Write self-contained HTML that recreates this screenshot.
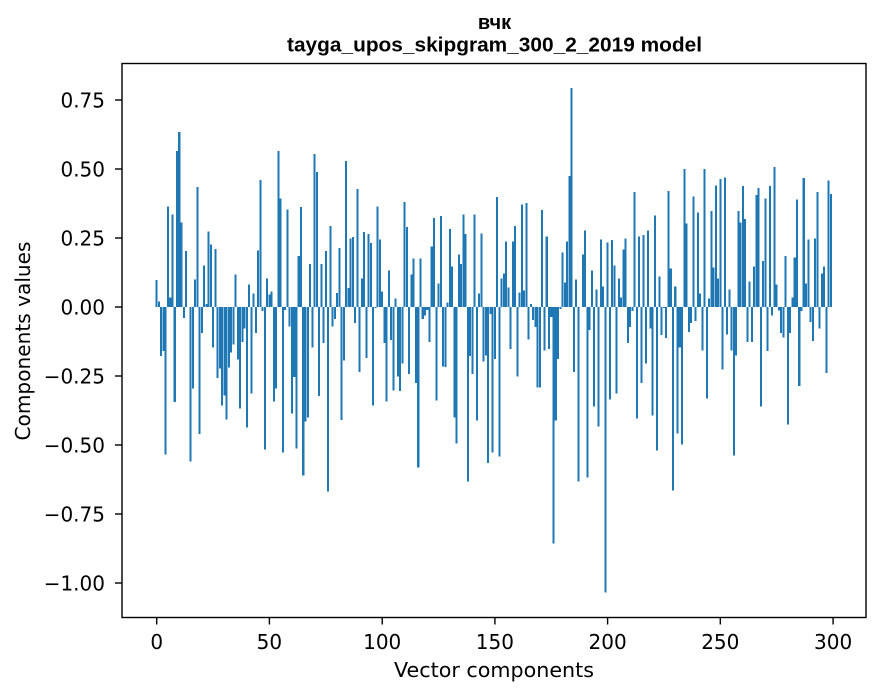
<!DOCTYPE html>
<html>
<head>
<meta charset="utf-8">
<style>
  html, body { margin: 0; padding: 0; background: #ffffff; }
  svg { display: block; }
  .tick { font-family: "DejaVu Sans", "Liberation Sans", sans-serif; font-size: 20px; fill: #000; }
  .lab { font-family: "DejaVu Sans", "Liberation Sans", sans-serif; font-size: 20px; fill: #000; }
  .ttl { font-family: "Liberation Sans", "DejaVu Sans", sans-serif; font-size: 20px; font-weight: bold; fill: #000; }
</style>
</head>
<body>
<svg width="880" height="696" viewBox="0 0 880 696" xmlns="http://www.w3.org/2000/svg">
  <rect x="0" y="0" width="880" height="696" fill="#ffffff"/>

  <!-- bars -->
  <g transform="translate(155.7,307) scale(2.2545,-276)">
    <path fill="#1f77b4" shape-rendering="crispEdges" d="M0 0
v.097h.9V0zm1 0 v.02h.9V0zm1 0 v-.178h.9V0zm1 0 v-.16h.9V0zm1 0 v-.535h.9V0zm1 0
v.365h.9V0zm1 0 v.035h.9V0zm1 0 v.336h.9V0zm1 0 v-.345h.9V0zm1 0 v.565h.9V0zm1 0
v.634h.9V0zm1 0 v.307h.9V0zm1 0 v-.04h.9V0zm1 0 v.202h.9V0zm1 0 m1 0
v-.56h.9V0zm1 0 v-.295h.9V0zm1 0 v.1h.9V0zm1 0 v.434h.9V0zm1 0 v-.46h.9V0zm1 0
v-.095h.9V0zm1 0 v.151h.9V0zm1 0 v.01h.9V0zm1 0 v.274h.9V0zm1 0 v.227h.9V0zm1 0
v-.146h.9V0zm1 0 v.21h.9V0zm1 0 v-.258h.9V0zm1 0 v-.222h.9V0zm1 0 v-.356h.9V0zm1 0
v-.32h.9V0zm1 0 v-.407h.9V0zm1 0 v-.22h.9V0zm1 0 v-.164h.9V0zm1 0 v-.135h.9V0zm1 0
v.118h.9V0zm1 0 v-.19h.9V0zm1 0 v-.368h.9V0zm1 0 v-.127h.9V0zm1 0 v-.077h.9V0zm1 0
v-.436h.9V0zm1 0 v.082h.9V0zm1 0 v-.313h.9V0zm1 0 v.049h.9V0zm1 0 v-.095h.9V0zm1 0
v.205h.9V0zm1 0 v.46h.9V0zm1 0 v-.015h.9V0zm1 0 v-.516h.9V0zm1 0 v.104h.9V0zm1 0
v.046h.9V0zm1 0 v.056h.9V0zm1 0 v-.342h.9V0zm1 0 v-.295h.9V0zm1 0 v.565h.9V0zm1 0
v.394h.9V0zm1 0 v-.527h.9V0zm1 0 v-.01h.9V0zm1 0 v.354h.9V0zm1 0 v-.071h.9V0zm1 0
v-.385h.9V0zm1 0 v-.254h.9V0zm1 0 v-.513h.9V0zm1 0 v.184h.9V0zm1 0 v.362h.9V0zm1 0
v-.61h.9V0zm1 0 v-.414h.9V0zm1 0 v-.4h.9V0zm1 0 v.155h.9V0zm1 0 v-.146h.9V0zm1 0
v.554h.9V0zm1 0 v.489h.9V0zm1 0 v-.323h.9V0zm1 0 v.155h.9V0zm1 0 v-.13h.9V0zm1 0
v.202h.9V0zm1 0 v-.668h.9V0zm1 0 v.293h.9V0zm1 0 v-.07h.9V0zm1 0 v-.044h.9V0zm1 0
v.05h.9V0zm1 0 v.213h.9V0zm1 0 v-.41h.9V0zm1 0 v-.193h.9V0zm1 0 v.529h.9V0zm1 0
v.068h.9V0zm1 0 v.249h.9V0zm1 0 v.253h.9V0zm1 0 v-.058h.9V0zm1 0 v.427h.9V0zm1 0
v-.236h.9V0zm1 0 v.104h.9V0zm1 0 v.271h.9V0zm1 0 v-.185h.9V0zm1 0 v.264h.9V0zm1 0
v.231h.9V0zm1 0 v-.356h.9V0zm1 0 v-.004h.9V0zm1 0 v.365h.9V0zm1 0 v.245h.9V0zm1 0
v.057h.9V0zm1 0 v-.131h.9V0zm1 0 v-.342h.9V0zm1 0 v.133h.9V0zm1 0 v-.12h.9V0zm1 0
v-.302h.9V0zm1 0 v.031h.9V0zm1 0 v-.251h.9V0zm1 0 v-.305h.9V0zm1 0 v-.204h.9V0zm1 0
v.38h.9V0zm1 0 v.289h.9V0zm1 0 v-.243h.9V0zm1 0 v.118h.9V0zm1 0 v.176h.9V0zm1 0
v-.276h.9V0zm1 0 v-.581h.9V0zm1 0 v.176h.9V0zm1 0 v-.044h.9V0zm1 0 v-.03h.9V0zm1 0
v-.01h.9V0zm1 0 v-.127h.9V0zm1 0 v.22h.9V0zm1 0 v.322h.9V0zm1 0 v-.338h.9V0zm1 0
v.085h.9V0zm1 0 v.329h.9V0zm1 0 v-.215h.9V0zm1 0 v-.218h.9V0zm1 0 v.017h.9V0zm1 0
v.282h.9V0zm1 0 v.147h.9V0zm1 0 v-.4h.9V0zm1 0 v-.494h.9V0zm1 0 v.191h.9V0zm1 0
v.155h.9V0zm1 0 v.336h.9V0zm1 0 v.264h.9V0zm1 0 v-.632h.9V0zm1 0 v-.178h.9V0zm1 0
v-.243h.9V0zm1 0 v.336h.9V0zm1 0 v-.411h.9V0zm1 0 v.049h.9V0zm1 0 v.267h.9V0zm1 0
v-.197h.9V0zm1 0 v-.175h.9V0zm1 0 v-.566h.9V0zm1 0 v-.026h.9V0zm1 0 v-.527h.9V0zm1 0
v-.189h.9V0zm1 0 v.398h.9V0zm1 0 v-.541h.9V0zm1 0 v.104h.9V0zm1 0 v.122h.9V0zm1 0
v.238h.9V0zm1 0 v.071h.9V0zm1 0 v-.153h.9V0zm1 0 v.238h.9V0zm1 0 v.293h.9V0zm1 0
v-.251h.9V0zm1 0 v.053h.9V0zm1 0 v.372h.9V0zm1 0 v.06h.9V0zm1 0 v.376h.9V0zm1 0
v-.117h.9V0zm1 0 v.01h.9V0zm1 0 v-.048h.9V0zm1 0 v-.073h.9V0zm1 0 v-.291h.9V0zm1 0
v-.291h.9V0zm1 0 v.351h.9V0zm1 0 v-.157h.9V0zm1 0 v.256h.9V0zm1 0 v-.153h.9V0zm1 0
v-.037h.9V0zm1 0 v-.857h.9V0zm1 0 v-.411h.9V0zm1 0 v-.189h.9V0zm1 0 v-.008h.9V0zm1 0
v.198h.9V0zm1 0 v.089h.9V0zm1 0 v.238h.9V0zm1 0 v.474h.9V0zm1 0 v.794h.9V0zm1 0
v-.236h.9V0zm1 0 v.1h.9V0zm1 0 v-.632h.9V0zm1 0 m1 0 v.191h.9V0zm1 0
v.278h.9V0zm1 0 v-.618h.9V0zm1 0 v-.084h.9V0zm1 0 v.133h.9V0zm1 0 v-.36h.9V0zm1 0
v.064h.9V0zm1 0 v-.433h.9V0zm1 0 v.245h.9V0zm1 0 v.075h.9V0zm1 0 v-1.035h.9V0zm1 0
v.234h.9V0zm1 0 v-.335h.9V0zm1 0 v.242h.9V0zm1 0 v.151h.9V0zm1 0 v-.313h.9V0zm1 0
v.104h.9V0zm1 0 v.035h.9V0zm1 0 v.209h.9V0zm1 0 v.249h.9V0zm1 0 v-.131h.9V0zm1 0
v-.073h.9V0zm1 0 v-.015h.9V0zm1 0 v.416h.9V0zm1 0 v-.404h.9V0zm1 0 v.256h.9V0zm1 0
v-.276h.9V0zm1 0 v.26h.9V0zm1 0 v-.204h.9V0zm1 0 v.278h.9V0zm1 0 v-.077h.9V0zm1 0
v-.393h.9V0zm1 0 v.332h.9V0zm1 0 v-.52h.9V0zm1 0 v.111h.9V0zm1 0 v-.102h.9V0zm1 0
v-.004h.9V0zm1 0 v-.113h.9V0zm1 0 v.42h.9V0zm1 0 v.14h.9V0zm1 0 v-.665h.9V0zm1 0
v.075h.9V0zm1 0 v-.458h.9V0zm1 0 v-.146h.9V0zm1 0 v-.498h.9V0zm1 0 v.5h.9V0zm1 0
v.303h.9V0zm1 0 v-.091h.9V0zm1 0 v-.058h.9V0zm1 0 v.401h.9V0zm1 0 v-.051h.9V0zm1 0
v.343h.9V0zm1 0 v.049h.9V0zm1 0 v-.157h.9V0zm1 0 v.5h.9V0zm1 0 v-.331h.9V0zm1 0
v.031h.9V0zm1 0 v.347h.9V0zm1 0 v.144h.9V0zm1 0 v.441h.9V0zm1 0 v.104h.9V0zm1 0
v.463h.9V0zm1 0 v-.226h.9V0zm1 0 v.47h.9V0zm1 0 v-.099h.9V0zm1 0 v.064h.9V0zm1 0
v-.157h.9V0zm1 0 v-.538h.9V0zm1 0 v-.175h.9V0zm1 0 v.347h.9V0zm1 0 v.307h.9V0zm1 0
v.438h.9V0zm1 0 v.318h.9V0zm1 0 v-.127h.9V0zm1 0 v.093h.9V0zm1 0 v-.127h.9V0zm1 0
v.147h.9V0zm1 0 v.405h.9V0zm1 0 v.431h.9V0zm1 0 v-.36h.9V0zm1 0 v.166h.9V0zm1 0
v.394h.9V0zm1 0 v-.16h.9V0zm1 0 v.438h.9V0zm1 0 v-.03h.9V0zm1 0 v.507h.9V0zm1 0
v.082h.9V0zm1 0 v-.012h.9V0zm1 0 v-.095h.9V0zm1 0 v-.11h.9V0zm1 0 v.184h.9V0zm1 0
v-.426h.9V0zm1 0 v-.095h.9V0zm1 0 v.035h.9V0zm1 0 v.18h.9V0zm1 0 v.39h.9V0zm1 0
v-.287h.9V0zm1 0 v-.015h.9V0zm1 0 v.467h.9V0zm1 0 v.085h.9V0zm1 0 v.245h.9V0zm1 0
v-.055h.9V0zm1 0 v-.124h.9V0zm1 0 v.249h.9V0zm1 0 v.416h.9V0zm1 0 v-.077h.9V0zm1 0
v.122h.9V0zm1 0 v.147h.9V0zm1 0 v-.24h.9V0zm1 0 v.459h.9V0zm1 0 v.409h.9V0zm1 0"/>
  </g>

  <!-- axes frame -->
  <rect x="122" y="63.5" width="744" height="554" fill="none" stroke="#000" stroke-width="1.4"/>

  <!-- y ticks -->
  <g stroke="#000" stroke-width="1.4">
    <line x1="115" y1="100" x2="122" y2="100"/>
    <line x1="115" y1="169" x2="122" y2="169"/>
    <line x1="115" y1="238" x2="122" y2="238"/>
    <line x1="115" y1="307" x2="122" y2="307"/>
    <line x1="115" y1="376" x2="122" y2="376"/>
    <line x1="115" y1="445" x2="122" y2="445"/>
    <line x1="115" y1="514" x2="122" y2="514"/>
    <line x1="115" y1="583" x2="122" y2="583"/>
  </g>
  <g class="tick" text-anchor="end">
    <text x="105" y="107.3">0.75</text>
    <text x="105" y="176.3">0.50</text>
    <text x="105" y="245.3">0.25</text>
    <text x="105" y="314.3">0.00</text>
    <text x="105" y="383.3">−0.25</text>
    <text x="105" y="452.3">−0.50</text>
    <text x="105" y="521.3">−0.75</text>
    <text x="105" y="590.3">−1.00</text>
  </g>

  <!-- x ticks -->
  <g stroke="#000" stroke-width="1.4">
    <line x1="156.7" y1="617.5" x2="156.7" y2="624.5"/>
    <line x1="269.4" y1="617.5" x2="269.4" y2="624.5"/>
    <line x1="382.2" y1="617.5" x2="382.2" y2="624.5"/>
    <line x1="494.9" y1="617.5" x2="494.9" y2="624.5"/>
    <line x1="607.6" y1="617.5" x2="607.6" y2="624.5"/>
    <line x1="720.3" y1="617.5" x2="720.3" y2="624.5"/>
    <line x1="833.1" y1="617.5" x2="833.1" y2="624.5"/>
  </g>
  <g class="tick" text-anchor="middle">
    <text x="156.7" y="649">0</text>
    <text x="269.4" y="649">50</text>
    <text x="382.2" y="649">100</text>
    <text x="494.9" y="649">150</text>
    <text x="607.6" y="649">200</text>
    <text x="720.3" y="649">250</text>
    <text x="833.1" y="649">300</text>
  </g>

  <!-- axis labels -->
  <text class="lab" x="494" y="677" text-anchor="middle" textLength="200" lengthAdjust="spacingAndGlyphs">Vector components</text>
  <text class="lab" transform="translate(30,341) rotate(-90)" x="0" y="0" text-anchor="middle" textLength="199" lengthAdjust="spacingAndGlyphs">Components values</text>

  <!-- title -->
  <text class="ttl" x="494.5" y="29" text-anchor="middle">вчк</text>
  <text class="ttl" x="494.5" y="51.7" text-anchor="middle" textLength="415" lengthAdjust="spacingAndGlyphs">tayga_upos_skipgram_300_2_2019 model</text>
</svg>
</body>
</html>
